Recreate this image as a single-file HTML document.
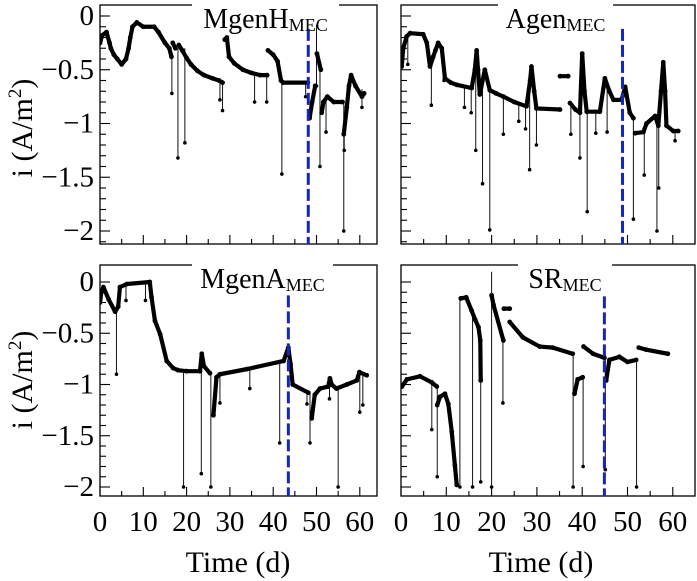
<!DOCTYPE html>
<html><head><meta charset="utf-8">
<style>
html,body{margin:0;padding:0;background:#fff;}
svg{display:block;}
svg text{font-family:"Liberation Serif","DejaVu Serif",serif;}
</style></head>
<body>
<svg id="chart" width="697" height="581" viewBox="0 0 697 581"></svg>
<script>
// ---- data (t in days, i in A/m^2); null breaks a curve ----
const mgenHCurve = [[0,-0.25],[0.5,-0.18],[1.5,-0.15],[2.2,-0.25],[2.5,-0.3],[3.2,-0.36],[4,-0.4],[5,-0.45],[6,-0.4],[6.6,-0.3],[7,-0.2],[7.5,-0.1],[8.5,-0.06],[10,-0.1],[12.5,-0.1],[13.5,-0.15],[15,-0.25],[16,-0.3],[16.5,-0.38],null,[16.8,-0.25],[17.4,-0.3],null,[18.2,-0.27],[19,-0.32],[20,-0.39],[21,-0.45],[22.5,-0.51],[24,-0.55],[26,-0.58],[27.5,-0.6],[28.3,-0.62],null,[28.8,-0.22],[29.3,-0.2],[29.8,-0.38],[31,-0.44],[33,-0.5],[35,-0.53],[37,-0.55],[38.6,-0.55],null,[38.8,-0.32],[40,-0.36],[41,-0.42],[41.8,-0.6],[42.3,-0.62],[48,-0.62],null,[48.4,-0.95],[49,-0.8],[49.7,-0.65],null,[50.1,-0.35],[51,-0.5],null,[51.2,-0.9],[51.6,-0.8],[52.5,-0.75],[54,-0.8],[56,-0.8],null,[56.3,-1.1],[57,-0.85],[57.5,-0.65],[58,-0.55],[59,-0.65],[60.5,-0.75],[61,-0.72]];
const mgenHSpikes = [[16.6,-0.4,-0.72],[18,-0.3,-1.32],[19.6,-0.3,-1.18],[27.7,-0.6,-0.78],[28.3,-0.6,-0.88],[35.7,-0.54,-0.8],[38.5,-0.55,-0.8],[42,-0.6,-1.47],[47.5,-0.62,-0.75],[50,-0.08,-0.65],[50.8,-0.5,-1.4],[52.2,-0.75,-1.08],[56.3,-0.8,-2],[56.4,-1.1,-1.25],[60.5,-0.68,-0.85]];
const mgenHMark = 48.1;

const agenCurve = [[0.15,-0.47],[0.5,-0.3],[1.25,-0.19],[2,-0.16],[4.9,-0.17],[5.7,-0.25],[6.4,-0.47],[7.1,-0.38],[7.6,-0.32],[8.2,-0.25],[9,-0.3],[9.7,-0.58],[11,-0.62],[12.3,-0.64],[15.6,-0.67],[16.3,-0.5],[16.7,-0.32],[17,-0.5],[17.4,-0.73],[18.5,-0.5],[19.6,-0.69],[21,-0.72],[22.6,-0.75],[25,-0.8],[27.7,-0.84],[28.5,-0.6],[28.8,-0.47],[29.4,-0.7],[29.9,-0.86],[35.1,-0.87],null,[35.1,-0.56],[36.9,-0.56],null,[37.3,-0.81],[38.5,-0.87],[39.5,-0.9],[40,-0.35],[40.5,-0.7],[41,-0.89],[43.9,-0.89],[45,-0.58],[46,-0.7],[46.9,-0.78],[48.7,-0.78],[49.5,-0.66],[50.5,-0.9],[51.3,-0.95],null,[51.7,-1.09],[53.5,-1.08],[54.2,-1.0],[56.1,-0.93],[56.8,-1.02],[57.4,-0.7],[57.9,-0.43],[58.3,-0.7],[58.6,-1.02],[60.1,-1.07],[61.2,-1.07]];
const agenSpikes = [[1.5,-0.19,-0.45],[6.7,-0.45,-0.83],[9.5,-0.5,-0.6],[14,-0.66,-0.85],[15.5,-0.67,-0.9],[16.5,-0.5,-1.25],[18,-0.55,-1.56],[19.6,-0.69,-1.99],[22.6,-0.75,-1.1],[26,-0.82,-0.98],[27.5,-0.84,-1.05],[28.4,-0.6,-1.43],[29.9,-0.86,-1.2],[37.5,-0.8,-1.1],[39.5,-0.9,-1.32],[41.1,-0.89,-1.82],[43,-0.89,-1.09],[45.5,-0.65,-1.08],[51.3,-0.95,-1.89],[53.7,-1.08,-1.48],[56.5,-0.93,-2.0],[56.9,-1.0,-1.6],[60.5,-1.07,-1.16]];
const agenMark = 48.9;

const mgenACurve = [[0,-0.2],[0.3,-0.1],[0.8,-0.05],[2,-0.17],[3.5,-0.29],[4.2,-0.24],[4.6,-0.05],[6.2,-0.02],[11.5,0.0],[11.9,-0.15],[12.7,-0.38],[13.9,-0.51],[15.4,-0.77],[16.9,-0.84],[18,-0.86],[20,-0.87],[23.1,-0.87],[23.5,-0.7],[24,-0.82],[25.4,-0.89],null,[26.2,-1.3],[26.9,-0.93],[27.7,-0.9],[33.9,-0.85],[42.4,-0.77],[43.5,-0.64],[44,-0.8],[44.5,-1.0],[48.1,-1.08],null,[48.9,-1.33],[49.6,-1.1],[50.8,-1.04],[52.7,-1.02],[53.1,-0.94],[53.5,-1.0],[54.6,-1.04],[57,-1.0],[59.3,-0.96],[59.9,-0.88],[61.6,-0.91]];
const mgenASpikes = [[3.8,-0.29,-0.9],[6,-0.02,-0.18],[10.5,0.0,-0.18],[19.3,-0.87,-2.0],[23.4,-0.8,-1.87],[25.6,-0.89,-2.0],[27.7,-0.9,-1.18],[34.6,-0.85,-1.04],[41.5,-0.78,-1.57],[47.8,-1.05,-1.19],[48.5,-1.07,-1.57],[53,-0.95,-1.14],[55,-1.04,-2.0],[60,-0.92,-1.27],[60.7,-0.9,-1.2]];
const mgenAMark = 43.5;

const srCurve = [[0.2,-1.02],[1.3,-0.95],[4.2,-0.92],[6.8,-0.98],[7.9,-1.02],null,[8,-1.2],[8.6,-1.12],[9.7,-1.09],[10.45,-1.19],[11.2,-1.46],[11.9,-1.79],[12.3,-1.98],null,[13.2,-0.16],[14.4,-0.15],[15.6,-0.28],[16.4,-0.37],[17.1,-0.44],[17.5,-0.57],[17.6,-0.96],null,[20,-0.13],[20.4,-0.22],[22.6,-0.57],null,[22.7,-0.26],[24,-0.26],null,[24,-0.39],[26.9,-0.54],[30.6,-0.63],[33.5,-0.64],[37.9,-0.7],null,[38.3,-1.09],[39,-0.95],[40.1,-0.93],null,[40.3,-0.63],[42.4,-0.7],[44.9,-0.74],null,[45.3,-0.96],[46,-0.76],[48.2,-0.73],[50,-0.78],[51.9,-0.76],null,[52.5,-0.64],[54.1,-0.66],[58.9,-0.7]];
const srSpikes = [[6.8,-0.98,-1.44],[8,-1.02,-1.9],[13,-0.16,-2.0],[15.8,-0.3,-2.0],[17.6,-0.6,-1.95],[20,0.1,-2.0],[22.5,-0.5,-1.18],[38,-0.7,-2.0],[40.2,-0.93,-1.8],[45.1,-0.74,-1.83],[52,-0.76,-2.0]];
const srMark = 44.9;

const yTicks = [0,-0.5,-1,-1.5,-2];
const yTickLabels = ["0","\u22120.5","\u22121","\u22121.5","\u22122"];
const xTicks = [0,10,20,30,40,50,60];
const xTickLabels = ["0","10","20","30","40","50","60"];

const NS="http://www.w3.org/2000/svg";
const svg=document.getElementById('chart');
function mk(tag,attrs,parent){const e=document.createElementNS(NS,tag);for(const k in attrs)e.setAttribute(k,attrs[k]);(parent||svg).appendChild(e);return e;}

function panel(cfg){
  const g=mk('g',{});
  
  
  const X=t=>cfg.x0+(t-0)*cfg.xs;
  const Y=v=>cfg.y0-v*cfg.ys;
  const fr=mk('rect',{x:cfg.L,y:cfg.T,width:cfg.R-cfg.L,height:cfg.B-cfg.T,fill:'none',stroke:'#000','stroke-width':1.3},g);
  
  
  for(let k=0;k<=21;k++){const v=-k*0.1;const yy=Y(v);if(yy<cfg.T||yy>cfg.B)continue;
    const major=(k%5===0);
    mk('line',{x1:cfg.L,x2:cfg.L+(major?10:6),y1:yy,y2:yy,stroke:'#000','stroke-width':1.1},g);}
  for(let t=0;t<=64;t+=5){const xx=X(t);if(xx>cfg.R)continue;const major=(t%10===0);
    mk('line',{x1:xx,x2:xx,y1:cfg.B,y2:cfg.B-(major?9:5),stroke:'#000','stroke-width':1.1},g);}
  if(cfg.yLabels){yTicks.forEach((v,i)=>{const tx=mk('text',{x:cfg.L-6,y:Y(v)+9,'text-anchor':'end','font-size':29},g);tx.textContent=yTickLabels[i];
    
    });}
  if(cfg.xLabels){xTicks.forEach((t,i)=>{const tx=mk('text',{x:X(t),y:cfg.B+35,'text-anchor':'middle','font-size':29},g);tx.textContent=xTickLabels[i];
    
    });}
  const clipId='c'+cfg.name;
  const cp=mk('clipPath',{id:clipId},g);mk('rect',{x:cfg.L,y:cfg.T,width:cfg.R-cfg.L,height:cfg.B-cfg.T},cp);
  const dg=mk('g',{'clip-path':'url(#'+clipId+')'},g);
  cfg.spikes.forEach(s=>{
    const l=mk('line',{x1:X(s[0]),x2:X(s[0]),y1:Y(s[1]),y2:Y(s[2]),stroke:'#111','stroke-width':1},dg);
    
    
    mk('circle',{cx:X(s[0]),cy:Y(s[2]),r:1.8,fill:'#000'},dg);
  });
  let segs=[[]];cfg.curve.forEach(p=>{if(p===null)segs.push([]);else segs[segs.length-1].push(p);});
  segs.forEach(sg=>{if(!sg.length)return;
    const pl=mk('polyline',{points:sg.map(p=>X(p[0])+','+Y(p[1])).join(' '),fill:'none',stroke:'#000','stroke-width':4.2,'stroke-linejoin':'round','stroke-linecap':'round'},dg);
    
    
    sg.forEach(p=>mk('circle',{cx:X(p[0]),cy:Y(p[1]),r:2.4,fill:'#000'},dg));
  });
  const bl=mk('line',{x1:X(cfg.mark),x2:X(cfg.mark),y1:Y(cfg.markTop),y2:cfg.B,stroke:'#1428b4','stroke-width':3,'stroke-dasharray':'12,4'},dg);
  
  
  const tb=mk('rect',{x:cfg.tb[0],y:cfg.T-2,width:cfg.tb[1]-cfg.tb[0],height:20,fill:'#fff'},g);
  
  
  const tt=mk('text',{x:(cfg.tb[0]+cfg.tb[1])/2,y:cfg.T+23,'text-anchor':'middle','font-size':28},g);
  
  
  tt.appendChild(document.createTextNode(cfg.title));
  const sub=mk('tspan',{'font-size':18,dy:3},tt);sub.textContent='MEC';
}

panel({name:'panel-mgenh',L:100,R:377,T:5,B:244,x0:100,xs:4.33,y0:16,ys:107.5,curve:mgenHCurve,spikes:mgenHSpikes,mark:mgenHMark,markTop:-0.12,tb:[192,339],title:'MgenH',yLabels:true,xLabels:false});
panel({name:'panel-agen',L:401,R:695,T:5,B:244,x0:401,xs:4.53,y0:16,ys:107.5,curve:agenCurve,spikes:agenSpikes,mark:agenMark,markTop:-0.12,tb:[498,613],title:'Agen',yLabels:false,xLabels:false});
panel({name:'panel-mgena',L:100,R:377,T:265,B:496,x0:100,xs:4.33,y0:282,ys:102.5,curve:mgenACurve,spikes:mgenASpikes,mark:mgenAMark,markTop:-0.13,tb:[192,333],title:'MgenA',yLabels:true,xLabels:true});
panel({name:'panel-sr',L:401,R:695,T:265,B:496,x0:401,xs:4.53,y0:282,ys:102.5,curve:srCurve,spikes:srSpikes,mark:srMark,markTop:-0.14,tb:[518,612],title:'SR',yLabels:false,xLabels:true});

function ytitle(cy,name){const t=mk('text',{x:0,y:0,transform:'translate(32,'+cy+') rotate(-90)','text-anchor':'middle','font-size':30});
  
  
  t.appendChild(document.createTextNode('i (A/m'));const s=mk('tspan',{'font-size':19,dy:-11},t);s.textContent='2';const s2=mk('tspan',{dy:11},t);s2.textContent=')';}
ytitle(128,'y-axis-title-top');ytitle(380,'y-axis-title-bottom');
function xtitle(cx,name){const t=mk('text',{x:cx,y:572,'text-anchor':'middle','font-size':30});t.textContent='Time (d)';
  
  }
xtitle(238,'x-axis-title-left');xtitle(541,'x-axis-title-right');
</script>
</body></html>
